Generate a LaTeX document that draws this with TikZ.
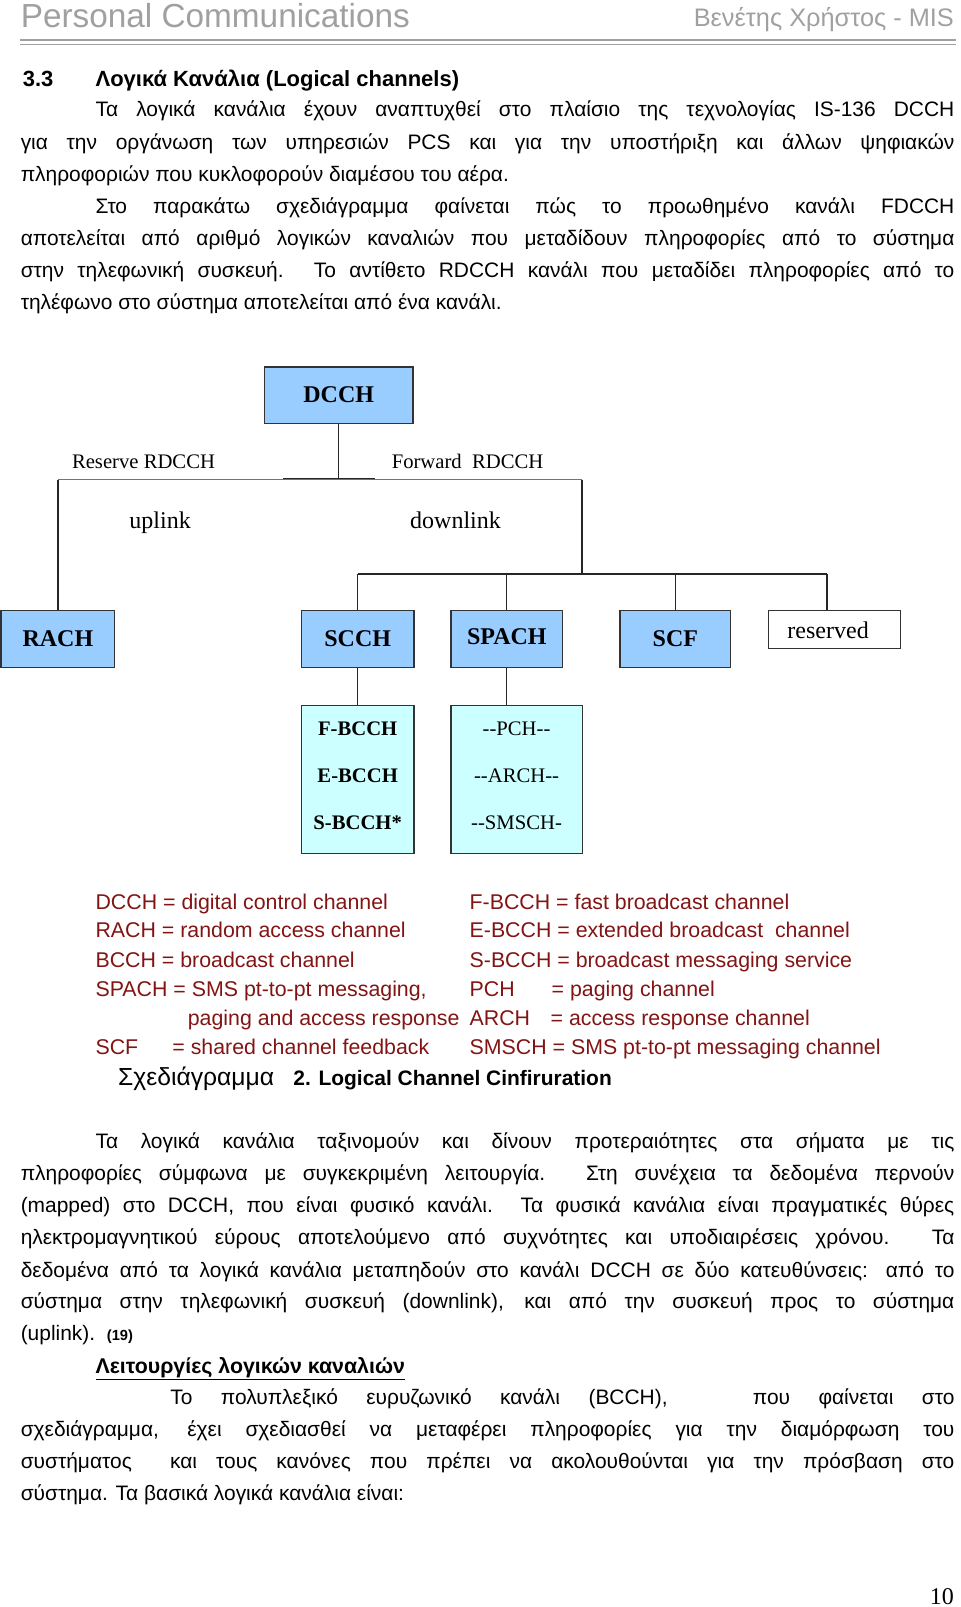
\documentclass[tikz,border=0pt]{standalone}
\usepackage{fontspec}
\setmainfont{Liberation Sans}
\newfontfamily\timesfont{Liberation Serif}
\usetikzlibrary{positioning}

\newdimen\upx \upx=0.7684pt
\definecolor{boxblue}{RGB}{153,204,255}
\definecolor{boxcyan}{RGB}{204,255,255}
\definecolor{legendred}{RGB}{130,20,20}
\definecolor{headgray}{RGB}{160,160,160}
\newcommand\fullline[1]{\makebox[911\upx][s]{#1}}
\newcommand\indline[1]{\makebox[838\upx][s]{#1}}
\newcommand\deepline[1]{\makebox[765\upx][s]{#1}}

\begin{document}
\begin{tikzpicture}
	[x=0.7684pt, y=-0.7684pt,
	 body/.style={anchor=base west, inner sep=0pt, font=\fontsize{15.7}{18}\selectfont},
	 legend/.style={body, text=legendred, font=\fontsize{16}{18}\selectfont},
	 chan/.style={draw=black!80, line width=0.9pt, fill=boxblue, minimum height=55\upx, inner sep=0pt,
	   font=\timesfont\bfseries\fontsize{18}{20}\selectfont},
	 subbox/.style={draw=black!80, line width=0.9pt, fill=boxcyan, minimum height=145\upx, inner sep=0pt,
	   align=center, font=\timesfont\fontsize{15.5}{35.7}\selectfont},
	 lbl/.style={anchor=base west, inner sep=0pt, font=\timesfont\fontsize{15.5}{18}\selectfont},
	 tree/.style={draw=black!85, line width=1pt}]
	\useasboundingbox (0,0) rectangle (937,1568);

	% page header
	\node[body, text=headgray, font=\fontsize{25}{28}\selectfont] (head) at (20,27) {Personal Communications};
	\node[anchor=base east, inner sep=0pt, text=headgray, font=\fontsize{19}{22}\selectfont] (author) at (931,26) {Βενέτης Χρήστος - MIS};
	\draw[headgray, line width=0.8pt] (20,39) -- (933,39);
	\draw[headgray, line width=0.8pt] (20,43) -- (933,43);

	% section heading
	\node[body, font=\bfseries\fontsize{16.5}{18}\selectfont] (secno) at (22,84) {3.3};
	\node[body, font=\bfseries\fontsize{16.5}{18}\selectfont] (sec) at (93,84) {Λογικά Κανάλια (Logical channels)};

	% first paragraphs
	\node[body] (p1) at (93,114) {\indline{Τα λογικά κανάλια έχουν αναπτυχθεί στο πλαίσιο της τεχνολογίας IS-136 DCCH}};
	\node[body] (p2) at (20,146) {\fullline{για την οργάνωση των υπηρεσιών PCS και για την υποστήριξη και άλλων ψηφιακών}};
	\node[body] (p3) at (20,177) {πληροφοριών που κυκλοφορούν διαμέσου του αέρα.};
	\node[body] (p4) at (93,208) {\indline{Στο παρακάτω σχεδιάγραμμα φαίνεται πώς το προωθημένο κανάλι FDCCH}};
	\node[body] (p5) at (20,240) {\fullline{αποτελείται από αριθμό λογικών καναλιών που μεταδίδουν πληροφορίες από το σύστημα}};
	\node[body] (p6) at (20,271) {\fullline{στην τηλεφωνική συσκευή. Το αντίθετο RDCCH κανάλι που μεταδίδει πληροφορίες από το}};
	\node[body] (p7) at (20,302) {τηλέφωνο στο σύστημα αποτελείται από ένα κανάλι.};

	% channel tree
	\node[chan, minimum width=145\upx] (dcch) at (330.5,385.5) {DCCH};
	\node[chan, minimum width=111\upx] (rach) at (56.5,623.5) {RACH};
	\node[chan, minimum width=110\upx] (scch) at (349,623.5) {SCCH};
	\node[chan, minimum width=109\upx] (spach) at (494.5,623.5) {\raisebox{3pt}{SPACH}};
	\node[chan, minimum width=108\upx] (scf) at (659,623.5) {SCF};
	\node[chan, fill=white, minimum width=129\upx, minimum height=37\upx,
	  font=\timesfont\fontsize{18}{20}\selectfont] (resv) at (814.5,614.5) {\hspace*{-10pt}\raisebox{-2pt}{reserved}};
	\node[subbox, minimum width=110\upx, font=\timesfont\bfseries\fontsize{15.5}{35.7}\selectfont] (bcch) at (349,760.5)
	  {\raisebox{5.5pt}{\shortstack{F-BCCH\\[22pt]E-BCCH\\[22pt]S-BCCH*}}};
	\node[subbox, minimum width=128\upx] (pch) at (504,760.5)
	  {\raisebox{5.5pt}{\shortstack{--PCH--\\[22pt]--ARCH--\\[22pt]--SMSCH-}}};

	\node[lbl] (rev) at (70,457) {Reserve RDCCH};
	\node[lbl] (fwd) at (382,457) {Forward\ \ RDCCH};
	\node[lbl, font=\timesfont\fontsize{18}{20}\selectfont] (up) at (126,516) {uplink};
	\node[lbl, font=\timesfont\fontsize{18}{20}\selectfont] (down) at (400,516) {downlink};

	\coordinate (bar) at (330.5,467);
	\coordinate (barL) at (276,467);
	\coordinate (barR) at (366,467);
	\coordinate (upL) at (56.5,468);
	\coordinate (upR) at (568,468);
	\coordinate (dnJ) at (568,560);
	\coordinate (dnL) at (349,560);
	\coordinate (dnR) at (807,560);

	\draw[tree] (dcch) -- (bar);
	\draw[tree, line width=1.4pt] (barL) -- (barR);
	\draw[black!55, line width=0.8pt] (upL) -- (upR);
	\draw[tree] (upL) -- (rach);
	\draw[tree] (upR) -- (dnJ);
	\draw[tree] (dnL) -- (dnR);
	\foreach \to in {scch,spach,scf}
	  \draw[tree] (dnL -| \to) -- (\to);
	\draw[tree] (dnR) -- (dnR |- resv.north);
	\draw[tree] (scch) -- (bcch);
	\draw[tree] (spach.south) -- (spach.south |- pch.north);

	% legend
	\node[legend] (lg1) at (93,887) {DCCH = digital control channel};
	\node[legend] (lg2) at (93,915) {RACH = random access channel};
	\node[legend] (lg3) at (93,944) {BCCH = broadcast channel};
	\node[legend] (lg4) at (93,972) {SPACH = SMS pt-to-pt messaging,};
	\node[legend] (lg5) at (183,1001) {paging and access response};
	\node[legend] (lg6) at (93,1029) {SCF};
	\node[legend] (lg6b) at (168,1029) {= shared channel feedback};
	\node[legend] (lr1) at (458,887) {F-BCCH = fast broadcast channel};
	\node[legend] (lr2) at (458,915) {E-BCCH = extended broadcast\ \ channel};
	\node[legend] (lr3) at (458,944) {S-BCCH = broadcast messaging service};
	\node[legend] (lr4) at (458,972) {PCH};
	\node[legend] (lr4b) at (538,972) {= paging channel};
	\node[legend] (lr5) at (458,1001) {ARCH};
	\node[legend] (lr5b) at (537,1001) {= access response channel};
	\node[legend] (lr6) at (458,1029) {SMSCH = SMS pt-to-pt messaging channel};
	\node[body, font=\fontsize{18.5}{20}\selectfont] (cap) at (115,1059) {Σχεδιάγραμμα};
	\node[body, font=\bfseries\fontsize{15.7}{18}\selectfont] (capb) at (286,1059) {2. Logical Channel Cinfiruration};

	% text after the figure
	\node[body] (q1) at (93,1121) {\indline{Τα λογικά κανάλια ταξινομούν και δίνουν προτεραιότητες στα σήματα με τις}};
	\node[body] (q2) at (20,1152) {\fullline{πληροφορίες σύμφωνα με συγκεκριμένη λειτουργία. Στη συνέχεια τα δεδομένα περνούν}};
	\node[body] (q3) at (20,1183) {\fullline{(mapped) στο DCCH, που είναι φυσικό κανάλι. Τα φυσικά κανάλια είναι πραγματικές θύρες}};
	\node[body] (q4) at (20,1214) {\fullline{ηλεκτρομαγνητικού εύρους αποτελούμενο από συχνότητες και υποδιαιρέσεις χρόνου. Τα}};
	\node[body] (q5) at (20,1246) {\fullline{δεδομένα από τα λογικά κανάλια μεταπηδούν στο κανάλι DCCH σε δύο κατευθύνσεις: από το}};
	\node[body] (q6) at (20,1277) {\fullline{σύστημα στην τηλεφωνική συσκευή (downlink), και από την συσκευή προς το σύστημα}};
	\node[body] (q7) at (20,1308) {(uplink).\ \ {\bfseries\fontsize{11}{13}\selectfont (19)}};
	\node[body, font=\bfseries\fontsize{16}{18}\selectfont] (sub) at (93,1340) {\underline{Λειτουργίες λογικών καναλιών}};
	\node[body] (r1) at (166,1370) {\deepline{Το πολυπλεξικό ευρυζωνικό κανάλι (BCCH),\ \ \ που φαίνεται στο}};
	\node[body] (r2) at (20,1402) {\fullline{σχεδιάγραμμα, έχει σχεδιασθεί να μεταφέρει πληροφορίες για την διαμόρφωση του}};
	\node[body] (r3) at (20,1433) {\fullline{συστήματος\ \ και τους κανόνες που πρέπει να ακολουθούνται για την πρόσβαση στο}};
	\node[body] (r4) at (20,1464) {σύστημα. Τα βασικά λογικά κανάλια είναι:};

	% page number
	\node[anchor=base east, inner sep=0pt, font=\timesfont\fontsize{18}{20}\selectfont] (pg) at (931,1566) {10};
\end{tikzpicture}
\end{document}
